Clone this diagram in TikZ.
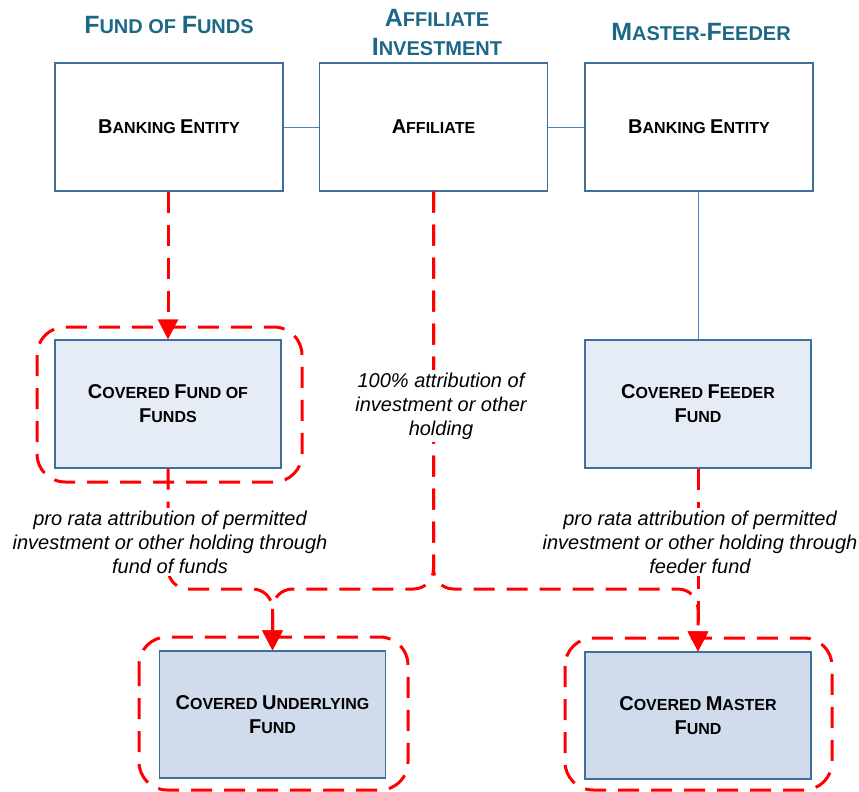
\documentclass[tikz,border=0pt]{standalone}
\usepackage{fontspec}
\setmainfont{Liberation Sans}
\usetikzlibrary{arrows.meta}
\definecolor{titlec}{RGB}{28,104,134}
\definecolor{boxline}{RGB}{62,112,155}
\definecolor{connline}{RGB}{79,129,189}
\definecolor{fillA}{RGB}{230,236,246}
\definecolor{fillB}{RGB}{208,220,236}
\definecolor{redc}{RGB}{255,0,0}
\newcommand\bxcap[1]{{\fontsize{20}{24}\selectfont #1}}
\newcommand\ttcap[1]{{\fontsize{25}{29}\selectfont #1}}
\begin{document}
\begin{tikzpicture}[x=1pt,y=-1pt,
  entitybox/.style={draw=boxline, line width=1.2pt, fill=white, minimum width=228pt, minimum height=128pt, inner sep=0pt, font=\bfseries\fontsize{16}{24}\selectfont, align=center},
  fundbox/.style={entitybox, fill=fillA, minimum width=226pt},
  basebox/.style={entitybox, fill=fillB, minimum width=226pt, minimum height=127pt},
  halo/.style={draw=redc, line width=3pt, dash pattern=on 21pt off 12pt, rounded corners=28pt},
  redarrow/.style={draw=redc, line width=3pt, dash pattern=on 21pt off 12pt, rounded corners=20pt, -{Triangle[width=20pt,length=20pt]}},
  blueline/.style={draw=connline, line width=1pt},
  lbl/.style={font=\itshape\fontsize{20}{24}\selectfont, align=center, fill=white, inner sep=3pt},
  heading/.style={font=\bfseries\fontsize{20}{29}\selectfont, text=titlec, align=center, inner sep=0pt}
]
\useasboundingbox (0,0) rectangle (859,792);

% headings
\node[heading] (h1) at (169,25) {\ttcap{F}UND OF \ttcap{F}UNDS};
\node[heading] (h2) at (437,32) {\ttcap{A}FFILIATE\\\ttcap{I}NVESTMENT};
\node[heading] (h3) at (701,32) {\ttcap{M}ASTER-\ttcap{F}EEDER};

% boxes
\node[entitybox] (be1) at (169,127) {\bxcap{B}ANKING \bxcap{E}NTITY};
\node[entitybox] (aff) at (433.5,127) {\bxcap{A}FFILIATE};
\node[entitybox] (be2) at (699,127) {\bxcap{B}ANKING \bxcap{E}NTITY};
\node[fundbox] (cfof) at (168,404) {\bxcap{C}OVERED \bxcap{F}UND OF\\\bxcap{F}UNDS};
\node[fundbox] (cff) at (698,404) {\bxcap{C}OVERED \bxcap{F}EEDER\\\bxcap{F}UND};
\node[basebox] (cuf) at (272.5,714.5) {\bxcap{C}OVERED \bxcap{U}NDERLYING\\\bxcap{F}UND};
\node[basebox] (cmf) at (698,715.5) {\bxcap{C}OVERED \bxcap{M}ASTER\\\bxcap{F}UND};

% dashed halos
\draw[halo] (37,327) rectangle (302,482);
\draw[halo] (139,637) rectangle (408,790);
\draw[halo] (565,638) rectangle (832,790);

% blue connectors
\draw[blueline] (be1) -- (aff);
\draw[blueline] (aff) -- (be2);
\draw[blueline] (be2.south -| cff.north) -- (cff.north);

% red connectors
\coordinate (mergeY) at (0,589);
\draw[redarrow] (cfof.north |- be1.south) -- (cfof.north);
\draw[redarrow] (cfof.south) |- (cuf.north |- mergeY) -- (cuf.north);
\draw[redarrow] (aff.south) |- (cuf.north |- mergeY) -- (cuf.north);
\draw[redarrow] (aff.south) |- (cmf.north |- mergeY) -- (cmf.north);
\draw[redarrow] (cff.south) -- (cmf.north);

% labels
\node[lbl] (l100) at (441,406) {100\% attribution of\\investment or other\\holding};
\node[lbl] (lfof) at (170,542) {pro rata attribution of permitted\\investment or other holding through\\fund of funds};
\node[lbl] (lmf) at (700,542) {pro rata attribution of permitted\\investment or other holding through\\feeder fund};
\end{tikzpicture}
\end{document}
